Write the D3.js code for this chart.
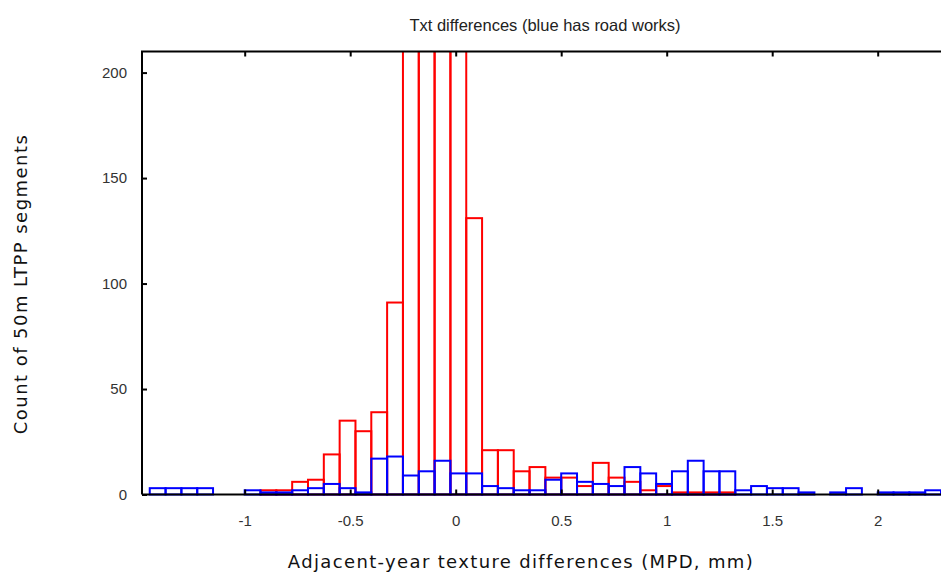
<!DOCTYPE html>
<html>
<head>
<meta charset="utf-8">
<script src="https://cdn.jsdelivr.net/npm/d3@7"></script>
<style>
  html, body { margin: 0; padding: 0; background: #fff; }
  svg { display: block; }
</style>
</head>
<body>
<svg id="chart" width="941" height="576"></svg>
<script>
// ---- data ----
const binStart = -1.45;
const binWidth = 0.075;
// counts per bin (bin k spans binStart + k*binWidth .. +binWidth)
const redCounts = [
  0, 0, 0, 0, 0, 0, 0, 2, 2, 6,
  7, 19, 35, 30, 39, 91, 350, 500, 450, 300,
  131, 21, 21, 11, 13, 8, 8, 4, 15, 8,
  6, 2, 4, 1, 1, 1, 1, 0, 0, 0,
  0, 0, 0, 0, 0, 0, 0, 0, 0, 0
];
const blueCounts = [
  3, 3, 3, 3, 0, 0, 2, 1, 1, 2,
  3, 5, 3, 1, 17, 18, 9, 11, 16, 10,
  10, 4, 3, 2, 2, 7, 10, 6, 5, 4,
  13, 10, 5, 11, 16, 11, 11, 2, 4, 3,
  3, 1, 0, 1, 3, 0, 1, 1, 1, 2
];
const xTicks = [-1, -0.5, 0, 0.5, 1, 1.5, 2];
const xTickLabels = ["-1", "-0.5", "0", "0.5", "1", "1.5", "2"];
const yTicks = [0, 50, 100, 150, 200];
const yTickLabels = ["0", "50", "100", "150", "200"];
const titleText = "Txt differences (blue has road works)";
const xLabelText = "Adjacent-year texture differences (MPD, mm)";
const yLabelText = "Count of 50m LTPP segments";

// ---- layout ----
const svg = d3.select("#chart");
const pLeft = 142, pRight = 941, pTop = 51.5, pBottom = 494.5;

const x = d3.scaleLinear().domain([-1.4867, 2.3]).range([pLeft, pRight]);
const y = d3.scaleLinear().domain([0, 210]).range([pBottom, pTop]);

svg.append("defs").append("clipPath").attr("id", "plotclip")
  .append("rect").attr("x", pLeft).attr("y", pTop)
  .attr("width", pRight - pLeft).attr("height", pBottom - pTop + 2);

function bins(counts) {
  return counts.map((v, k) => ({
    x0: binStart + k * binWidth,
    x1: binStart + (k + 1) * binWidth,
    v: v
  })).filter(d => d.v > 0);
}

const g = svg.append("g").attr("clip-path", "url(#plotclip)");

function drawBars(counts, color) {
  g.append("g").selectAll("rect").data(bins(counts)).join("rect")
    .attr("x", d => x(d.x0))
    .attr("width", d => x(d.x1) - x(d.x0))
    .attr("y", d => y(d.v))
    .attr("height", d => y(0) - y(d.v))
    .attr("fill", "none")
    .attr("stroke", color)
    .attr("stroke-width", 2);
}
drawBars(redCounts, "#ff0000");
drawBars(blueCounts, "#0000ff");

// ---- axes ----
const tickFont = "'Liberation Sans', Arial, sans-serif";

const xAxis = d3.axisBottom(x).tickValues(xTicks)
  .tickFormat((d, i) => xTickLabels[i])
  .tickSizeInner(-5).tickSizeOuter(0).tickPadding(20.5);
const gx = svg.append("g").attr("transform", `translate(0,${pBottom})`).call(xAxis);

const xTop = d3.axisTop(x).tickValues(xTicks).tickFormat("")
  .tickSizeInner(-5).tickSizeOuter(0);
const gxt = svg.append("g").attr("transform", `translate(0,${pTop})`).call(xTop);

const yAxis = d3.axisLeft(y).tickValues(yTicks)
  .tickFormat((d, i) => yTickLabels[i])
  .tickSizeInner(-5).tickSizeOuter(0).tickPadding(15);
const gy = svg.append("g").attr("transform", `translate(${pLeft},0)`).call(yAxis);

[gx, gxt, gy].forEach(a => {
  a.select(".domain").attr("stroke", "#000").attr("stroke-width", 2);
  a.selectAll(".tick line").attr("stroke", "#000").attr("stroke-width", 2);
  a.selectAll(".tick text").attr("fill", "#333")
    .style("font-family", tickFont).style("font-size", "15px");
});
gy.select(".domain").attr("d", `M0,${pBottom}V${pTop}`);
gx.select(".domain").attr("d", `M${pLeft},0H${pRight}`);
gxt.select(".domain").attr("d", `M${pLeft - 1},0H${pRight}`);

// ---- titles ----
svg.append("text").attr("x", 545).attr("y", 31)
  .attr("text-anchor", "middle").attr("fill", "#222")
  .style("font-family", tickFont).style("font-size", "16.5px")
  .text(titleText);

const labelFont = "'DejaVu Sans', Verdana, sans-serif";
svg.append("text").attr("x", 521).attr("y", 568)
  .attr("text-anchor", "middle").attr("fill", "#111")
  .style("font-family", labelFont).style("font-size", "18px")
  .style("letter-spacing", "1.35px")
  .text(xLabelText);

svg.append("text").attr("transform", "translate(27,284) rotate(-90)")
  .attr("text-anchor", "middle").attr("fill", "#111")
  .style("font-family", labelFont).style("font-size", "18px")
  .style("letter-spacing", "1.45px")
  .text(yLabelText);
</script>
</body>
</html>
